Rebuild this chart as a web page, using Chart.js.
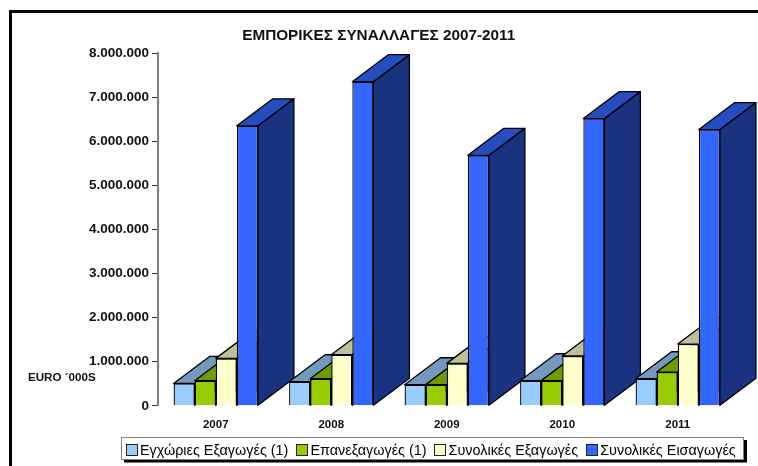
<!DOCTYPE html>
<html><head><meta charset="utf-8">
<style>html,body{margin:0;padding:0;background:#fff;overflow:hidden}canvas{display:block}</style>
<script src="https://cdn.jsdelivr.net/npm/chart.js@4/dist/chart.umd.min.js"></script>
</head><body><canvas id="c" width="758" height="466"></canvas>
<script>
const titleText = 'ΕΜΠΟΡΙΚΕΣ ΣΥΝΑΛΛΑΓΕΣ 2007-2011';
const unitLabel = 'EURO ´000S';
const years = ['2007','2008','2009','2010','2011'];
const seriesNames = ['Εγχώριες Εξαγωγές (1)','Επανεξαγωγές (1)','Συνολικές Εξαγωγές','Συνολικές Εισαγωγές'];
const domesticExports = [507000,545000,477000,568000,614000];
const reExports = [568000,614000,477000,568000,766000];
const totalExports = [1076000,1159000,962000,1129000,1400000];
const totalImports = [6350000,7350000,5680000,6515000,6265000];
const fronts = ['#99ccff','#99cc00','#ffffcc','#3366ff'];
const tops = ['#7399bf','#739900','#bfbf99','#264dbf'];
const sides = ['#4d6680','#4d6600','#80806a','#1a3380'];
const DX=36, DY=27, LEGEND_SHIFT=63;
const sans='"Liberation Sans",Arial,sans-serif';

const extrude={id:'extrude',
  beforeDatasetsDraw(chart){
    const g=chart.ctx; g.save(); g.lineWidth=1.3; g.strokeStyle='#000'; g.lineJoin='round';
    chart.data.labels.forEach((_,i)=>{
      chart.data.datasets.forEach((d,k)=>{
        const b=chart.getDatasetMeta(k).data[i];
        const l=b.x-b.width/2,r=b.x+b.width/2,t=b.y,bt=b.base;
        g.fillStyle=sides[k]; g.beginPath();
        g.moveTo(r,t);g.lineTo(r+DX,t-DY);g.lineTo(r+DX,bt-DY);g.lineTo(r,bt);g.closePath();g.fill();g.stroke();
        g.fillStyle=tops[k]; g.beginPath();
        g.moveTo(l,t);g.lineTo(l+DX,t-DY);g.lineTo(r+DX,t-DY);g.lineTo(r,t);g.closePath();g.fill();g.stroke();
      });
    });
    g.restore();
  }};
const decor={id:'decor',
  afterLayout(chart){
    const s=chart.legend; s.left+=LEGEND_SHIFT; s.right+=LEGEND_SHIFT; s.top-=2; s.bottom-=2;
    const t=chart.titleBlock; t.left+=11; t.right+=11;
  },
  beforeDraw(chart){
    const g=chart.ctx; g.save();
    g.strokeStyle='#000'; g.lineWidth=3; g.beginPath();
    g.moveTo(10.5,466);g.lineTo(10.5,11.5);g.lineTo(758,11.5);g.stroke();
    g.fillStyle='#000'; g.fillRect(124,440,623,22.5);
    g.fillStyle='#fff'; g.strokeStyle='#808080'; g.lineWidth=1; g.fillRect(121.5,437.5,622,22); g.strokeRect(121.5,437.5,622,22);
    g.restore();
  },
  afterDraw(chart){
    const g=chart.ctx; g.save();
    g.font='bold 11.6px '+sans; g.fillStyle='#111'; g.textBaseline='middle'; g.textAlign='left';
    g.fillText(unitLabel,28,378);
    chart.legend.legendHitBoxes.forEach((h,k)=>{
      g.fillStyle=fronts[k]; g.strokeStyle='#222'; g.lineWidth=1;
      const x=Math.round(h.left)+.5, y=444.5;
      g.fillRect(x,y,11,11); g.strokeRect(x,y,11,11);
    });
    g.restore();
  }};
const values=[domesticExports,reExports,totalExports,totalImports];
new Chart(document.getElementById('c'),{
  type:'bar',
  data:{labels:years,datasets:seriesNames.map((n,k)=>({label:n,data:values[k],backgroundColor:fronts[k],borderColor:'#000',borderWidth:1.3,categoryPercentage:0.73,barPercentage:1}))},
  options:{responsive:false,animation:false,
    layout:{padding:{left:0,right:22.5,top:0,bottom:-4}},
    plugins:{
      title:{display:true,text:titleText,color:'#111',font:{family:sans,size:15.3,weight:'bold',lineHeight:1.2},padding:{top:27,bottom:7.7}},
      legend:{position:'bottom',labels:{boxWidth:7,boxHeight:11,padding:7.8,color:'#000',font:{family:sans,size:14.4},
        generateLabels:c=>seriesNames.map((n,k)=>({text:n,fillStyle:'rgba(0,0,0,0)',strokeStyle:'rgba(0,0,0,0)',lineWidth:0,datasetIndex:k}))}},
      tooltip:{enabled:false}
    },
    scales:{
      x:{grid:{display:false},border:{display:false},ticks:{color:'#111',font:{family:sans,size:11.5,weight:'bold'},padding:4,maxRotation:0},afterFit(s){s.height=32}},
      y:{min:0,max:8000000,afterFit(s){s.width=158},
        grid:{drawOnChartArea:false,color:'#333',tickLength:6},border:{color:'#808080',width:2},
        ticks:{stepSize:1000000,color:'#111',padding:3,font:{family:sans,size:13.5,weight:'bold'},callback:v=>String(v).replace(/\B(?=(\d{3})+$)/g,'.')}}
    }
  },
  plugins:[extrude,decor]
});
</script></body></html>
